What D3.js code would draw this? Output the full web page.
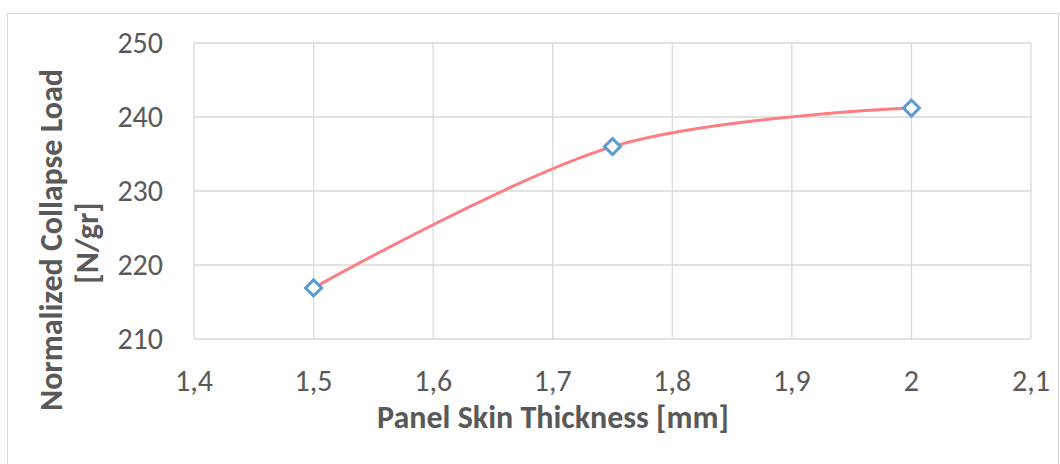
<!DOCTYPE html>
<html lang="en">
<head>
    <meta charset="utf-8">
    <title>Normalized Collapse Load</title>
    <script src="https://d3js.org/d3.v7.min.js"></script>
    <style>
        body {
            margin: 0;
            background: #fff;
            font-family: Carlito, "Liberation Sans Narrow", "Open Sans", sans-serif;
        }
        .grid line {
            stroke: #d9d9d9;
            stroke-width: 1.3px;
        }
        .tick-label {
            fill: #595959;
            font-size: 30px;
        }
        .axis-title {
            fill: #595959;
            font-size: 32px;
            font-weight: bold;
        }
    </style>
</head>
<body>
    <svg id="chart" width="1060" height="464"></svg>
    <script>
        // data
        const thickness = [1.5, 1.75, 2];
        const collapseLoad = [216.9, 236, 241.2];
        const xTicks = [1.4, 1.5, 1.6, 1.7, 1.8, 1.9, 2, 2.1];
        const yTicks = [210, 220, 230, 240, 250];

        const svg = d3.select("#chart");
        const margin = { left: 194, right: 29, top: 43, bottom: 125 };
        const width = 1060, height = 464;

        // chart border
        svg.append("rect")
            .attr("x", 7.5).attr("y", 13.5)
            .attr("width", 1051).attr("height", 470)
            .attr("fill", "none")
            .attr("stroke", "#d9d9d9")
            .attr("stroke-width", 1);

        const x = d3.scaleLinear()
            .domain([1.4, 2.1])
            .range([margin.left, width - margin.right]);
        const y = d3.scaleLinear()
            .domain([210, 250])
            .range([height - margin.bottom, margin.top]);

        const fmt = v => String(v).replace(".", ",");

        const grid = svg.append("g").attr("class", "grid");
        grid.selectAll(".h").data(yTicks).enter().append("line")
            .attr("x1", x.range()[0]).attr("x2", x.range()[1])
            .attr("y1", d => y(d)).attr("y2", d => y(d));
        grid.selectAll(".v").data(xTicks).enter().append("line")
            .attr("x1", d => x(d)).attr("x2", d => x(d))
            .attr("y1", y.range()[0]).attr("y2", y.range()[1]);

        svg.selectAll(".ylab").data(yTicks).enter().append("text")
            .attr("class", "tick-label")
            .attr("x", margin.left - 31)
            .attr("y", d => y(d) + 10)
            .attr("text-anchor", "end")
            .text(d => d);

        svg.selectAll(".xlab").data(xTicks).enter().append("text")
            .attr("class", "tick-label")
            .attr("x", d => x(d))
            .attr("y", 391)
            .attr("text-anchor", "middle")
            .text(fmt);

        svg.append("text")
            .attr("class", "axis-title")
            .attr("x", 553)
            .attr("y", 428)
            .attr("text-anchor", "middle")
            .text("Panel Skin Thickness [mm]");

        const yTitle = svg.append("text")
            .attr("class", "axis-title")
            .attr("text-anchor", "middle")
            .attr("transform", "translate(62,240) rotate(-90)");
        yTitle.append("tspan").attr("x", 0).attr("dy", 0).text("Normalized Collapse Load");
        yTitle.append("tspan").attr("x", -3).attr("dy", 36).text("[N/gr]");

        const pts = thickness.map((t, i) => [t, collapseLoad[i]]);

        const line = d3.line()
            .x(d => x(d[0]))
            .y(d => y(d[1]))
            .curve(d3.curveCardinal.tension(0));

        svg.append("path")
            .datum(pts)
            .attr("d", line)
            .attr("fill", "none")
            .attr("stroke", "#ff7c80")
            .attr("stroke-width", 3);

        svg.selectAll(".marker").data(pts).enter().append("path")
            .attr("d", d3.symbol(d3.symbolSquare, 128))
            .attr("transform", d => `translate(${x(d[0])},${y(d[1])}) rotate(45)`)
            .attr("fill", "#fff")
            .attr("stroke", "#5b9bd5")
            .attr("stroke-width", 3);
    </script>
</body>
</html>
